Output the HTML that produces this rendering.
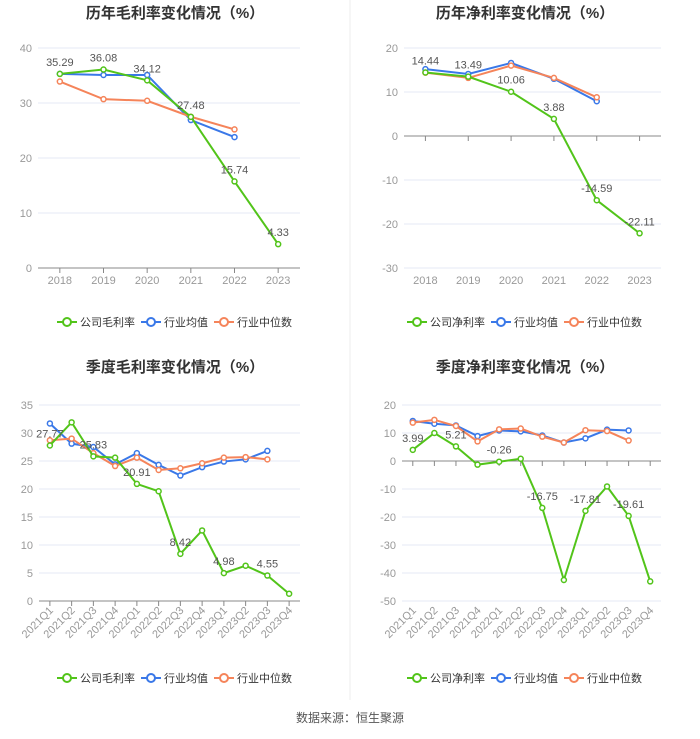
<!DOCTYPE html>
<html><head><meta charset="utf-8">
<style>
body{margin:0;background:#fff;width:700px;height:734px;overflow:hidden;font-family:"Liberation Sans","Noto Sans CJK SC",sans-serif;}
svg text{font-family:"Liberation Sans","Noto Sans CJK SC",sans-serif;}
</style></head>
<body>
<svg id="root" width="700" height="734">
<line x1="350" y1="0" x2="350" y2="700" stroke="#eeeeee"/>
<text x="350" y="722" font-size="12" fill="#555" text-anchor="middle">数据来源：恒生聚源</text>
</svg>
<script>
const yearCats=['2018','2019','2020','2021','2022','2023'];
const qCats=['2021Q1','2021Q2','2021Q3','2021Q4','2022Q1','2022Q2','2022Q3','2022Q4','2023Q1','2023Q2','2023Q3','2023Q4'];
const grossCompany=[35.29,36.08,34.12,27.48,15.74,4.33];
const grossMean=[35.3,35.1,35.1,26.9,23.8];
const grossMedian=[33.9,30.7,30.4,27.5,25.2];
const netCompany=[14.44,13.49,10.06,3.88,-14.59,-22.11];
const netMean=[15.2,14.1,16.6,13.0,7.9];
const netMedian=[14.4,13.2,16.0,13.2,8.8];
const qGrossCompany=[27.77,31.9,25.83,25.6,20.91,19.6,8.42,12.6,4.98,6.3,4.55,1.3];
const qGrossMean=[31.7,28.1,27.5,24.4,26.4,24.3,22.4,23.9,24.9,25.3,26.8];
const qGrossMedian=[28.7,29.0,26.4,24.1,25.6,23.4,23.7,24.6,25.6,25.7,25.3];
const qNetCompany=[3.99,10.0,5.21,-1.3,-0.26,0.8,-16.75,-42.5,-17.81,-9.1,-19.61,-43.0];
const qNetMean=[14.3,13.3,12.7,8.9,10.9,10.6,9.1,6.6,8.1,11.2,10.9];
const qNetMedian=[13.7,14.7,12.5,7.0,11.3,11.6,8.7,6.6,11.0,10.7,7.3];
const yTicksA=[0,10,20,30,40];
const yTicksB=[-30,-20,-10,0,10,20];
const yTicksC=[0,5,10,15,20,25,30,35];
const yTicksD=[-50,-40,-30,-20,-10,0,10,20];

const NS='http://www.w3.org/2000/svg';
const root=document.getElementById('root');
const GREEN='#52c41a',BLUE='#3a78e8',ORANGE='#f5845a';
function mk(tag,attrs,parent){const e=document.createElementNS(NS,tag);for(const k in attrs)e.setAttribute(k,attrs[k]);(parent||root).appendChild(e);return e;}

function chart(o){
  const g=mk('g',{});
  
  
  const ymin=o.ticks[0],ymax=o.ticks[o.ticks.length-1];
  const y=v=>o.yBot-(v-ymin)/(ymax-ymin)*(o.yBot-o.yTop);
  const bw=(o.x1-o.x0)/o.cats.length;
  const x=i=>o.x0+bw*(i+0.5);
  const t=mk('text',{x:o.cx,y:o.titleY,'font-size':15,'font-weight':'bold',fill:'#333','text-anchor':'middle'},g);
  t.textContent=o.title;
  
  
  o.ticks.forEach(v=>{
    const yy=y(v);
    if(v!==0||ymin!==0){const l=mk('line',{x1:o.x0,x2:o.x1,y1:yy,y2:yy,stroke:'#e6e9f5'},g);
      
      }
    const tt=mk('text',{x:o.x0-6,y:yy+4,'font-size':11,fill:'#999','text-anchor':'end'},g);
    tt.textContent=v;
    
    
  });
  const ax=mk('line',{x1:o.x0,x2:o.x1,y1:y(0),y2:y(0),stroke:'#888'},g);
  
  
  o.cats.forEach((c,i)=>{
    mk('line',{x1:x(i),x2:x(i),y1:y(0),y2:y(0)+5,stroke:'#888'},g);
    let tt;
    if(o.rot){tt=mk('text',{x:x(i)+4,y:o.yBot+10,'font-size':11,fill:'#999','text-anchor':'end',transform:`rotate(-45 ${x(i)+4} ${o.yBot+10})`},g);}
    else tt=mk('text',{x:x(i),y:o.yBot+16,'font-size':11,fill:'#999','text-anchor':'middle'},g);
    tt.textContent=c;
    
    
  });
  o.series.forEach(s=>{
    const pts=s.data.map((v,i)=>x(i)+','+y(v)).join(' ');
    const pl=mk('polyline',{points:pts,fill:'none',stroke:s.color,'stroke-width':2},g);
    
    
    s.data.forEach((v,i)=>{
      const c=mk('circle',{cx:x(i),cy:y(v),r:2.5,fill:'#fff',stroke:s.color,'stroke-width':1.5},g);
      
      
      if(s.labels&&i%s.labels===0){
        const lt=mk('text',{x:x(i),y:y(v)-8,'font-size':11,fill:'#555','text-anchor':'middle'},g);
        lt.textContent=v.toFixed(2);
        
        
      }
    });
  });
  const names=[o.leg,'行业均值','行业中位数'],cols=[GREEN,BLUE,ORANGE];
  let lx=o.cx-118;
  names.forEach((n,i)=>{
    const lg=mk('g',{},g);
    
    
    mk('line',{x1:lx,x2:lx+20,y1:o.legY,y2:o.legY,stroke:cols[i],'stroke-width':2},lg);
    mk('circle',{cx:lx+10,cy:o.legY,r:4,fill:'#fff',stroke:cols[i],'stroke-width':2},lg);
    const tt=mk('text',{x:lx+23,y:o.legY+4,'font-size':11,fill:'#333'},lg);
    tt.textContent=n;
    lx+=23+n.length*11+6;
  });
}
chart({name:'annual-gross-margin-chart',title:'历年毛利率变化情况（%）',cx:175,titleY:18,x0:38,x1:300,yTop:48,yBot:268,ticks:yTicksA,cats:yearCats,legY:322,leg:'公司毛利率',
  series:[{id:'gross-mean',color:BLUE,data:grossMean},{id:'gross-median',color:ORANGE,data:grossMedian},{id:'gross-company',color:GREEN,data:grossCompany,labels:1}]});
chart({name:'annual-net-margin-chart',title:'历年净利率变化情况（%）',cx:525,titleY:18,x0:404,x1:661,yTop:48,yBot:268,ticks:yTicksB,cats:yearCats,legY:322,leg:'公司净利率',
  series:[{id:'net-mean',color:BLUE,data:netMean},{id:'net-median',color:ORANGE,data:netMedian},{id:'net-company',color:GREEN,data:netCompany,labels:1}]});
chart({name:'quarterly-gross-margin-chart',title:'季度毛利率变化情况（%）',cx:175,titleY:372,x0:39,x1:300,yTop:405,yBot:601,ticks:yTicksC,cats:qCats,rot:true,legY:678,leg:'公司毛利率',
  series:[{id:'q-gross-mean',color:BLUE,data:qGrossMean},{id:'q-gross-median',color:ORANGE,data:qGrossMedian},{id:'q-gross-company',color:GREEN,data:qGrossCompany,labels:2}]});
chart({name:'quarterly-net-margin-chart',title:'季度净利率变化情况（%）',cx:525,titleY:372,x0:402,x1:661,yTop:405,yBot:601,ticks:yTicksD,cats:qCats,rot:true,legY:678,leg:'公司净利率',
  series:[{id:'q-net-mean',color:BLUE,data:qNetMean},{id:'q-net-median',color:ORANGE,data:qNetMedian},{id:'q-net-company',color:GREEN,data:qNetCompany,labels:2}]});
</script>
</body></html>
